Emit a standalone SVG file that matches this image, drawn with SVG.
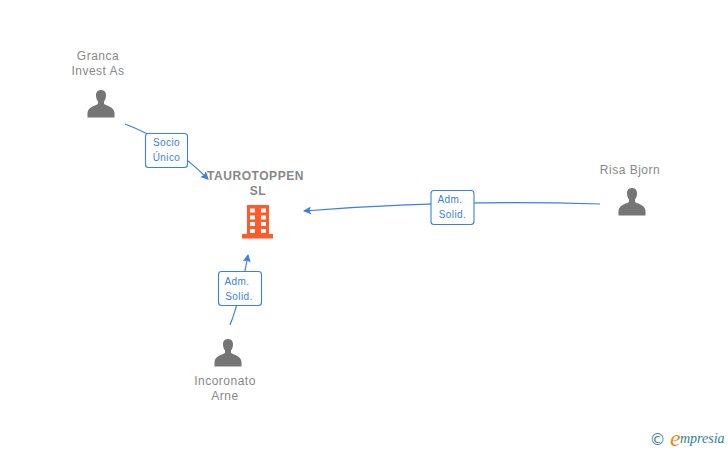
<svg xmlns="http://www.w3.org/2000/svg" width="728" height="450" viewBox="0 0 728 450">
<style>
.n{font:12px "Liberation Sans",Roboto,sans-serif;fill:#888;text-anchor:middle;letter-spacing:.5px}
.b{font:bold 12px "Liberation Sans",Roboto,sans-serif;fill:#888;text-anchor:middle;letter-spacing:.55px}
.l{font:10px "Liberation Sans",Roboto,sans-serif;fill:#3b7fe0;text-anchor:middle;letter-spacing:.4px}
.c{fill:none;stroke:#3b7fe0;stroke-width:1.2}
.box{fill:#fff;stroke:#3b7fe0;stroke-width:1.1}
.p{fill:#757575}
</style>
<defs>
<marker id="a" markerWidth="10" markerHeight="10" refX="7" refY="4" orient="auto" markerUnits="userSpaceOnUse"><path d="M0,0L8,4L0,8L1.5,4Z" fill="#3b7fe0"/></marker>
<path id="person" d="M0,-14C-4,-14 -5.2,-11 -5,-8C-4.8,-5.500 -4,-3.500 -3,-2.500L-3,0C-5,1.500 -13,2.500 -13.500,9L-13.500,13.500L13.500,13.500L13.500,9C13,2.500 5,1.500 3,0L3,-2.500C4,-3.500 4.800,-5.500 5,-8C5.200,-11 4,-14 0,-14Z"/>
</defs>
<g id="connectors">
<path class="c" marker-end="url(#a)" d="M125,124Q170,141 208,179"/>
<path class="c" marker-end="url(#a)" d="M600,204Q450,199 304,211"/>
<path class="c" marker-end="url(#a)" d="M230,325Q240,300 248,255"/>
</g>
<g id="edge-label-1"><rect class="box" x="145.500" y="133.500" width="42" height="34" rx="3"/><text class="l" x="166.500" y="146">Socio</text><text class="l" x="166.500" y="161">Único</text></g>
<g id="edge-label-2"><rect class="box" x="431" y="190.500" width="43" height="34" rx="3"/><text class="l" x="450" y="203">Adm.</text><text class="l" x="452.500" y="218">Solid.</text></g>
<g id="edge-label-3"><rect class="box" x="218.500" y="271.500" width="43" height="34" rx="3"/><text class="l" x="237" y="285">Adm.</text><text class="l" x="239" y="300">Solid.</text></g>
<g id="node-granca"><text class="n" x="98" y="60">Granca</text><text class="n" x="98" y="75">Invest As</text><use href="#person" class="p" x="101" y="104"/></g>
<g id="node-tauro"><text class="b" x="255.500" y="180">TAUROTOPPEN</text><text class="b" x="258" y="195">SL</text>
<path fill="#ff5a2c" fill-rule="evenodd" d="M247,205H269V234H273V238.500H242V234H247ZM250,208.500V212.500H255V208.500ZM261,208.500V212.500H266V208.500ZM250,215.500V219.500H255V215.500ZM261,215.500V219.500H266V215.500ZM250,222V226H255V222ZM261,222V226H266V222ZM250,229V233H255V229ZM261,229V233H266V229Z"/></g>
<g id="node-risa"><text class="n" x="630" y="174">Risa Bjorn</text><use href="#person" class="p" x="632" y="202"/></g>
<g id="node-incoronato"><text class="n" x="225" y="385">Incoronato</text><text class="n" x="225" y="400">Arne</text><use href="#person" class="p" x="228" y="353"/></g>
<g id="logo">
<text x="657.500" y="445" font-family="DejaVu Sans,sans-serif" font-size="16" fill="#3f7f95" text-anchor="middle">©</text>
<text x="670" y="446" font-family="Liberation Serif,serif" font-style="italic" font-size="24" fill="#f08a1d">e</text>
<text x="680" y="443" font-family="Liberation Serif,serif" font-style="italic" font-size="14" fill="#2f7f8f">mpresia</text>
</g>
</svg>
